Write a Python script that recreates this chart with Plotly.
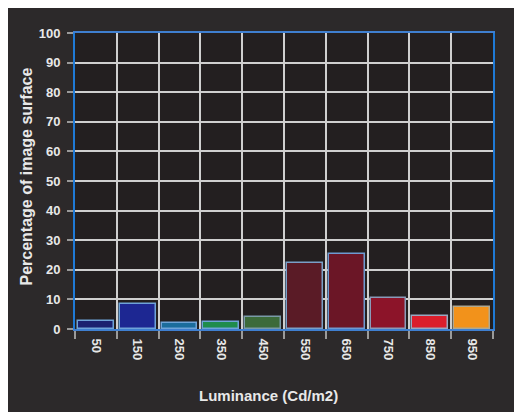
import plotly.graph_objects as go

categories = [50, 150, 250, 350, 450, 550, 650, 750, 850, 950]
tick_labels = ["50", "150", "250", "350", "450", "550", "650", "750", "850", "950"]
values = [2.8, 8.3, 1.9, 2.4, 4.2, 22.2, 25.4, 10.5, 4.5, 7.3]
bar_colors = ["#1b2170", "#1d2792", "#1b6c9c", "#1f8c4c", "#3c6a3a",
              "#5a1b26", "#6b1626", "#8c1429", "#da1d2b", "#f2921b"]
bar_edges = ["#6fa3d8", "#6fa3d8", "#6fa3d8", "#6fa3d8", "#7a9aa8",
             "#7aa0c8", "#6f9ad0", "#8a9ab8", "#9aa8c0", "#b0a890"]
boundaries = [0, 100, 200, 300, 400, 500, 600, 700, 800, 900, 1000]
y_ticks = [0, 10, 20, 30, 40, 50, 60, 70, 80, 90, 100]

# the page body has an 8px margin, so the figure is sized to fill the rest
W, H = 514, 404
L, R, T, B = 67, 29, 25, 83
pw, ph = W - L - R, H - T - B

def px_x(p):
    return (p - L) / pw

def px_y(p):
    return (H - B - p) / ph

fig = go.Figure()
fig.add_trace(go.Bar(
    x=categories, y=values, width=86,
    marker=dict(color=bar_colors, line=dict(color=bar_edges, width=1.5)),
    hoverinfo="skip",
))

font = dict(family="Liberation Sans, Arial, sans-serif", color="#e8e8e8", weight="bold")

fig.update_layout(
    width=W, height=H,
    margin=dict(l=L, r=R, t=T, b=B, autoexpand=False),
    paper_bgcolor="#2c292a",
    plot_bgcolor="#231f20",
    showlegend=False,
    bargap=0,
    xaxis=dict(
        range=[0, 1000], automargin=False,
        tickmode="array", tickvals=categories, ticktext=tick_labels,
        tickangle=90, ticks="", showgrid=False,
        tickfont=dict(size=13, **font), ticklabelstandoff=5,
        showline=True, linecolor="#3f7fd0", linewidth=2, mirror=True,
        minor=dict(tickmode="array", tickvals=boundaries, showgrid=True,
                   gridcolor="#cfcfcf", gridwidth=1.5,
                   ticks="outside", ticklen=8, tickcolor="#9a9a9a", tickwidth=1.5),
        zeroline=False, fixedrange=True,
    ),
    yaxis=dict(
        range=[0, 100], automargin=False,
        tickmode="array", tickvals=y_ticks,
        showgrid=True, gridcolor="#cfcfcf", gridwidth=1.5,
        ticks="outside", ticklen=6, tickcolor="#9a9a9a", tickwidth=1.5,
        tickfont=dict(size=13, **font), ticklabelstandoff=4,
        showline=True, linecolor="#1f7ad6", linewidth=2, mirror=True,
        zeroline=False, fixedrange=True,
    ),
    annotations=[
        dict(text="Luminance (Cd/m2)", xref="paper", yref="paper",
             x=px_x(260.5), y=px_y(387), showarrow=False,
             xanchor="center", yanchor="middle",
             font=dict(size=15, **font)),
        dict(text="Percentage of image surface", xref="paper", yref="paper",
             x=px_x(18), y=px_y(168.5), showarrow=False, textangle=-90,
             xanchor="center", yanchor="middle",
             font=dict(size=16, **font)),
    ],
)

fig.write_html("out.html")
